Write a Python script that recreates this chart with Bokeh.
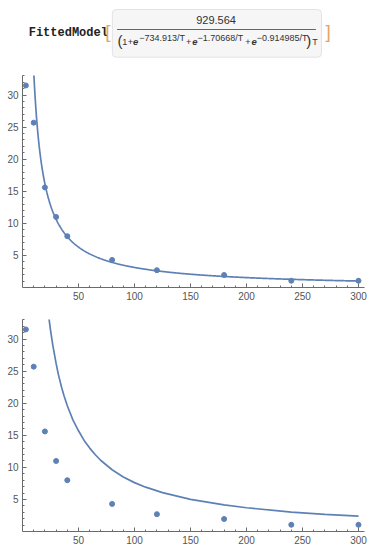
import numpy as np
from bokeh.plotting import figure
from bokeh.models import Range1d, FixedTicker
from bokeh.layouts import column
from bokeh.core.properties import value
from bokeh.embed import file_html
from bokeh.resources import INLINE

# ---------------- data ----------------
T_obs = [3, 10, 20, 30, 40, 80, 120, 180, 240, 300]
Y_obs = [31.5, 25.7, 15.6, 11.0, 8.0, 4.3, 2.7, 1.95, 1.05, 1.05]

# fitted model parameters (as printed in the header)
fit_numerator = 929.564
fit_exponents = [734.913, 1.70668, 0.914985]

# second curve
T_curve2 = [22, 23, 25, 27, 30, 32, 35, 37, 40, 45, 50, 55, 60, 65, 70, 80, 90, 100,
            110, 125, 150, 180, 200, 240, 270, 300]
Y_curve2 = [35.6, 34.1, 31.4, 29.1, 26.2, 24.5, 22.4, 21.2, 19.6, 17.4, 15.7, 14.2,
            13.0, 11.97, 11.07, 9.63, 8.51, 7.62, 6.91, 6.06, 5.01, 4.14, 3.70, 3.03,
            2.67, 2.39]

x_ticks = [50, 100, 150, 200, 250, 300]
x_minor = [10, 20, 30, 40, 60, 70, 80, 90, 110, 120, 130, 140, 160, 170, 180, 190,
           210, 220, 230, 240, 260, 270, 280, 290]
y_ticks = [5, 10, 15, 20, 25, 30]
y_minor = [1, 2, 3, 4, 6, 7, 8, 9, 11, 12, 13, 14, 16, 17, 18, 19, 21, 22, 23, 24,
           26, 27, 28, 29, 31, 32, 33]

BLUE = "#5E81B5"
AXIS = "#6b6b6b"
LABEL = "#555555"
FONT = "Liberation Sans"
W = 387

# fitted model curve from the displayed formula
T_fit = np.linspace(5, 300, 600)
den = 1.0
for a in fit_exponents:
    den = den + np.exp(-a / T_fit)
Y_fit = fit_numerator / (den * T_fit)


def make_plot(height, top, bottom, cx, cy):
    p = figure(width=W, height=height, output_backend="svg", toolbar_location=None,
               x_range=Range1d(0, 305.36), y_range=Range1d(0, 33.05),
               min_border_left=22, min_border_right=23,
               min_border_top=top, min_border_bottom=bottom)
    p.outline_line_color = None
    p.grid.visible = False
    p.xaxis.ticker = FixedTicker(ticks=x_ticks, minor_ticks=x_minor)
    p.yaxis.ticker = FixedTicker(ticks=y_ticks, minor_ticks=y_minor)
    for ax in (p.xaxis[0], p.yaxis[0]):
        ax.axis_line_color = AXIS
        ax.axis_line_width = 1
        ax.major_tick_line_color = AXIS
        ax.minor_tick_line_color = AXIS
        ax.major_tick_in = 4
        ax.major_tick_out = 0
        ax.minor_tick_in = 2
        ax.minor_tick_out = 0
        ax.major_label_text_font = FONT
        ax.major_label_text_font_size = "10px"
        ax.major_label_text_color = LABEL
        ax.major_label_standoff = 4
    p.line(cx, cy, line_color=BLUE, line_width=1.7)
    p.scatter(T_obs, Y_obs, size=5, fill_color=BLUE, line_color=BLUE)
    return p


p1 = make_plot(242, 11, 19, T_fit, Y_fit)
p2 = make_plot(245, 13, 20, T_curve2, Y_curve2)

# ---------------- header ----------------
h = figure(width=W, height=64, output_backend="svg", toolbar_location=None,
           x_axis_location=None, y_axis_location=None,
           x_range=Range1d(0, W), y_range=Range1d(64, 0), min_border=0)
h.outline_line_color = None
h.grid.visible = False
h.quad(left=[101.7], right=[338.3], top=[9], bottom=[56.7],
       fill_color="#F6F6F6", line_color="#E2E2E2", border_radius=4)
h.text([7], [32.5], text=["FittedModel"], text_font=value("Liberation Mono"),
       text_font_style="bold", text_font_size="12px", text_color="#222222",
       text_baseline="middle")
h.text([93.5, 343], [31, 31], text=["[", "]"], text_font=value(FONT),
       text_font_size="19px", text_color="#E2A56B", text_baseline="middle")
h.text([219], [19], text=["929.564"], text_font=value(FONT),
       text_font_size="11px", text_color="#333333", text_align="center",
       text_baseline="middle")
h.segment(x0=[107], y0=[29], x1=[332], y1=[29], line_color="#666666", line_width=1)
# denominator
h.text([107.5, 321], [39.5, 39.5], text=["(", ")"], text_font=value(FONT),
       text_font_size="15px", text_color="#333333", text_baseline="middle")
h.text([113, 119, 185, 252, 328], [41] * 5, text=["1", "+", "+", "+", "T"],
       text_font=value(FONT), text_font_size="9px", text_color="#333333",
       text_baseline="middle")
h.text([125, 192, 259], [41] * 3, text=["e", "e", "e"], text_font=value(FONT),
       text_font_style="bold italic", text_font_size="9.5px", text_color="#333333",
       text_baseline="middle")
h.text([132, 198, 265], [37] * 3,
       text=["\u2212734.913/T", "\u22121.70668/T", "\u22120.914985/T"],
       text_font=value(FONT), text_font_size="9px", text_color="#333333",
       text_baseline="middle")

layout = column(h, p1, p2)
open("out.html", "w").write(file_html(layout, INLINE))
